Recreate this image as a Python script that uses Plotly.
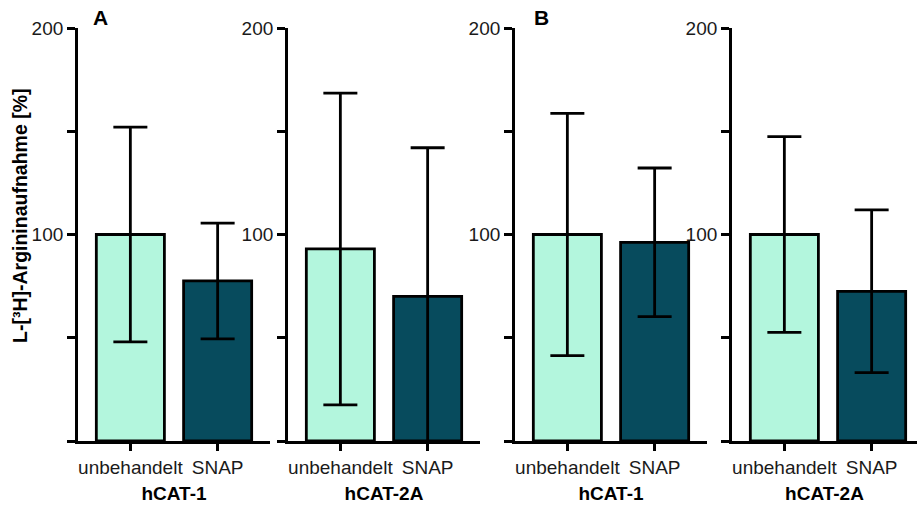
import plotly.graph_objects as go

W, H = 917, 506

categories = ["unbehandelt", "SNAP"]
panel_titles = ["hCAT-1", "hCAT-2A", "hCAT-1", "hCAT-2A"]
panel_letters = ["A", "", "B", ""]

# mean values [%] per panel: (unbehandelt, SNAP)
means_p1 = [100, 77.5]
means_p2 = [93, 70]
means_p3 = [100, 96.2]
means_p4 = [100, 72.5]
# error (SD) per panel
err_p1 = [52, 28]
err_p2 = [75.5, 72]
err_p3 = [58.7, 36]
err_p4 = [47.4, 39.4]

means = [means_p1, means_p2, means_p3, means_p4]
errs = [err_p1, err_p2, err_p3, err_p4]

y_ticks = [0, 50, 100, 150, 200]
y_ticktext = ["", "", "100", "", "200"]

light = "#b3f6dd"
dark = "#074b5d"

# pixel geometry
axis_left_px = [78, 288, 515, 732]
panel_w = 192
y_top_px, y_bot_px = 28, 441

fig = go.Figure()

for i in range(4):
    xa = "x" if i == 0 else f"x{i+1}"
    ya = "y" if i == 0 else f"y{i+1}"
    fig.add_trace(go.Bar(
        x=categories, y=means[i],
        xaxis=xa, yaxis=ya,
        width=0.78,
        marker=dict(color=[light, dark], line=dict(color="black", width=2.8)),
        error_y=dict(type="data", array=errs[i], visible=True,
                     color="black", thickness=2.8, width=17),
        showlegend=False, hoverinfo="skip",
    ))

font_family = "Liberation Sans, Arial, sans-serif"
ydom = [(H - y_bot_px) / H, (H - y_top_px) / H]

layout = dict(
    width=W, height=H,
    margin=dict(l=0, r=0, t=0, b=0, autoexpand=False),
    plot_bgcolor="white", paper_bgcolor="white",
    font=dict(family=font_family, size=19, color="black"),
)

for i in range(4):
    x0 = axis_left_px[i]
    x1 = min(x0 + panel_w, W)
    span = (x1 - x0) / panel_w * 2.2
    xkey = "xaxis" if i == 0 else f"xaxis{i+1}"
    ykey = "yaxis" if i == 0 else f"yaxis{i+1}"
    yanchor = "y" if i == 0 else f"y{i+1}"
    xanchor = "x" if i == 0 else f"x{i+1}"
    layout[xkey] = dict(
        domain=[x0 / W, x1 / W], anchor=yanchor,
        range=[-0.6, -0.6 + span],
        showline=True, linecolor="black", linewidth=2.8,
        ticks="outside", ticklen=7, tickwidth=2.8, tickcolor="black",
        showgrid=False, zeroline=False, automargin=False,
        tickfont=dict(size=19, color="#1a1a1a"),
        title=dict(text=f"<b>{panel_titles[i]}</b>", font=dict(size=19), standoff=10),
        fixedrange=True,
    )
    layout[ykey] = dict(
        domain=ydom, anchor=xanchor,
        range=[0, 200],
        tickvals=y_ticks, ticktext=y_ticktext,
        showline=True, linecolor="black", linewidth=2.8,
        ticks="outside", ticklen=8, tickwidth=2.8, tickcolor="black",
        showgrid=False, zeroline=False, automargin=False,
        tickfont=dict(size=19, color="#1a1a1a"),
        fixedrange=True,
    )

fig.update_layout(**layout)

annotations = [
    dict(text="<b>L-[³H]-Argininaufnahme [%]</b>", textangle=-90,
         x=20 / W, y=(H - 216) / H, xref="paper", yref="paper",
         showarrow=False, font=dict(size=19.5, color="black"),
         xanchor="center", yanchor="middle"),
]
letter_x = [100, None, 541, None]
for i, L in enumerate(panel_letters):
    if L:
        annotations.append(dict(
            text=f"<b>{L}</b>", x=letter_x[i] / W, y=(H - 17) / H,
            xref="paper", yref="paper", showarrow=False,
            font=dict(size=21, color="black"),
            xanchor="center", yanchor="middle"))
fig.update_layout(annotations=annotations)

fig.write_html("out.html", config={"displayModeBar": False},
               post_script="document.body.style.margin='0';document.body.style.overflow='hidden';")
